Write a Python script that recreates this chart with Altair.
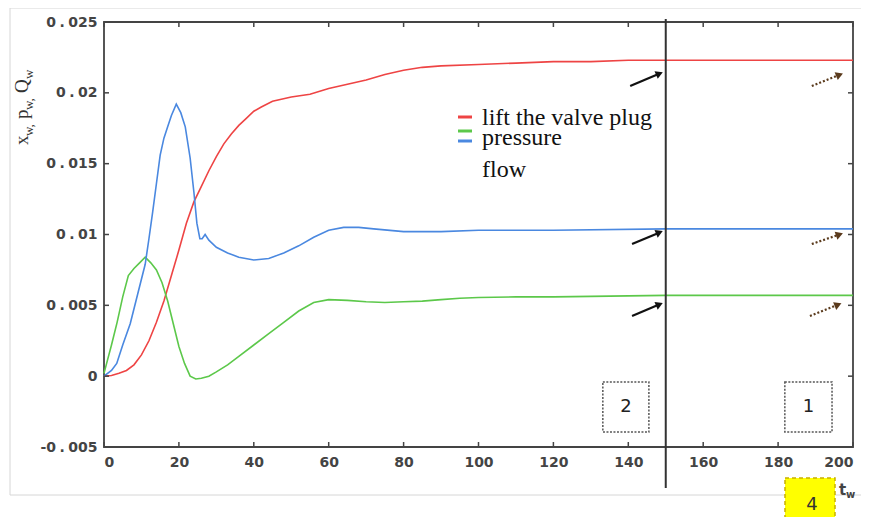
import math
import altair as alt
import pandas as pd

# ---------------- data ----------------
lift_t = [0, 2, 4, 6, 8, 10, 12, 14, 16, 18, 20, 22, 24, 26, 28, 30, 32, 34, 36, 38, 40, 42,
          45, 50, 55, 60, 65, 70, 75, 80, 85, 90, 100, 110, 120, 130, 140, 150, 170, 200]
lift_v = [0.0, 0.00005, 0.0002, 0.0004, 0.0008, 0.0015, 0.0025, 0.0038, 0.0053, 0.0071,
          0.0089, 0.0108, 0.0123, 0.0134, 0.0145, 0.0155, 0.0164, 0.0171, 0.0177, 0.0182,
          0.0187, 0.0190, 0.0194, 0.0197, 0.0199, 0.0203, 0.0206, 0.0209, 0.0213, 0.0216,
          0.0218, 0.0219, 0.0220, 0.0221, 0.0222, 0.0222, 0.0223, 0.0223, 0.0223, 0.0223]

flow_t = [0, 2, 3.4, 5, 7, 9, 11, 12, 13, 14, 15, 16, 17, 18, 19.3, 20.5, 21.7, 23, 24, 24.8,
          25.6, 26.2, 27, 28, 30, 33, 36, 40, 44, 48, 52, 56, 60, 64, 68, 72, 80, 90, 100,
          120, 150, 200]
flow_v = [0.0, 0.0004, 0.0009, 0.0022, 0.0037, 0.0058, 0.0079, 0.0097, 0.0116, 0.0136,
          0.0156, 0.0168, 0.0176, 0.0184, 0.0192, 0.0186, 0.0176, 0.0154, 0.0130, 0.0108,
          0.0097, 0.0097, 0.0100, 0.0096, 0.0091, 0.0087, 0.0084, 0.0082, 0.0083, 0.0087,
          0.0092, 0.0098, 0.0103, 0.0105, 0.0105, 0.0104, 0.0102, 0.0102, 0.0103, 0.0103,
          0.0104, 0.0104]

pres_t = [0, 1, 2, 3.5, 5, 6.5, 8, 9.5, 11, 12.5, 14, 15.5, 17, 18.5, 20, 21.5, 23, 24.5,
          26, 28, 30, 33, 36, 40, 44, 48, 52, 56, 60, 65, 70, 75, 80, 85, 90, 95, 100, 110,
          120, 150, 200]
pres_v = [0.0002, 0.0012, 0.0022, 0.0038, 0.0056, 0.0071, 0.0076, 0.0080, 0.0084, 0.0080,
          0.0075, 0.0066, 0.0053, 0.0037, 0.0021, 0.0009, 0.0000, -0.0002, -0.00015, 0.0000,
          0.0003, 0.0008, 0.0014, 0.0022, 0.0030, 0.0038, 0.0046, 0.0052, 0.0054, 0.00535,
          0.00525, 0.0052, 0.00525, 0.0053, 0.0054, 0.0055, 0.00555, 0.0056, 0.0056, 0.0057,
          0.0057]

series_names = ["lift the valve plug", "pressure", "flow"]
series_colors = ["#ee4444", "#5cc84a", "#4a88e0"]

x_ticks = [0, 20, 40, 60, 80, 100, 120, 140, 160, 180, 200]
y_ticks = [-0.005, 0.0, 0.005, 0.01, 0.015, 0.02, 0.025]

# arrow start / end points (t, value)
solid_t1 = [140.5, 141.0, 141.0]
solid_v1 = [0.02048, 0.00933, 0.00425]
solid_t2 = [149.3, 149.3, 149.3]
solid_v2 = [0.02147, 0.01025, 0.00517]
dotted_t1 = [189.0, 189.0, 188.5]
dotted_v1 = [0.02048, 0.00933, 0.00425]
dotted_t2 = [197.4, 197.4, 197.0]
dotted_v2 = [0.02138, 0.01009, 0.00515]

box_labels = ["2", "1"]
box_t1 = [133.2, 181.8]
box_t2 = [145.5, 194.4]
box_v1 = [-0.00041, -0.00041]
box_v2 = [-0.00394, -0.00394]

# ---------------- geometry ----------------
W, H = 749, 425
PX_T = W / 200.0
PX_V = H / 0.030

xs = alt.Scale(domain=[0, 200], nice=False, zero=False)
ys = alt.Scale(domain=[-0.005, 0.025], nice=False, zero=False)

rows = []
for name, ts, vs in [(series_names[0], lift_t, lift_v),
                     (series_names[1], pres_t, pres_v),
                     (series_names[2], flow_t, flow_v)]:
    for t, v in zip(ts, vs):
        rows.append({"series": name, "t": t, "v": v})
curves_df = pd.DataFrame(rows)

curves = alt.Chart(curves_df).mark_line(strokeWidth=1.6).encode(
    x=alt.X("t:Q", scale=xs, title=None,
            axis=alt.Axis(values=x_ticks, format="d", labelPadding=8, grid=False,
                          domain=False, ticks=False)),
    y=alt.Y("v:Q", scale=ys, title=None,
            axis=alt.Axis(values=y_ticks, labelPadding=7, grid=False, domain=False, ticks=False,
                          labelExpr="replace(replace(format(datum.value, '~g'), '\u2212', '-'), '.', '\u2005.\u2005')")),
    color=alt.Color("series:N", scale=alt.Scale(domain=series_names, range=series_colors), legend=None),
    detail="series:N",
)


def X(field):
    return alt.X(field, scale=xs, title=None)


def Y(field):
    return alt.Y(field, scale=ys, title=None)


# outer light border
border = alt.Chart(pd.DataFrame({"a": [0]})).mark_rect(
    fill="white", fillOpacity=0, stroke="#d6d6d6", strokeWidth=1
).encode(x=alt.value(-94), x2=alt.value(775), y=alt.value(-14), y2=alt.value(473))

# inward ticks
xt_df = pd.DataFrame({"t": x_ticks})
yt_df = pd.DataFrame({"v": y_ticks})
tick_style = dict(color="#444", strokeWidth=1.5)
ticks_bottom = alt.Chart(xt_df).mark_rule(**tick_style).encode(
    x=X("t:Q"), y=alt.value(H), y2=alt.value(H - 5))
ticks_top = alt.Chart(xt_df).mark_rule(**tick_style).encode(
    x=X("t:Q"), y=alt.value(0), y2=alt.value(5))
ticks_left = alt.Chart(yt_df).mark_rule(**tick_style).encode(
    y=Y("v:Q"), x=alt.value(0), x2=alt.value(5))
ticks_right = alt.Chart(yt_df).mark_rule(**tick_style).encode(
    y=Y("v:Q"), x=alt.value(W - 5), x2=alt.value(W))

# vertical marker line at t = 150
vline = alt.Chart(pd.DataFrame({"t": [150]})).mark_rule(color="#333", strokeWidth=2).encode(
    x=X("t:Q"), y=alt.value(-3), y2=alt.value(466))


def arrow_df(t1s, v1s, t2s, v2s, back=4.0):
    out = []
    for t1, v1, t2, v2 in zip(t1s, v1s, t2s, v2s):
        dx = (t2 - t1) * PX_T
        dy = -(v2 - v1) * PX_V
        L = math.hypot(dx, dy)
        ang = math.degrees(math.atan2(dy, dx)) % 360
        ht = t2 - (dx / L * back) / PX_T
        hv = v2 + (dy / L * back) / PX_V
        lt = t2 - (dx / L * (back + 1)) / PX_T
        lv = v2 + (dy / L * (back + 1)) / PX_V
        out.append({"t1": t1, "v1": v1, "t2": lt, "v2": lv, "ht": ht, "hv": hv, "ang": ang})
    return pd.DataFrame(out)


def arrows(df, color, dash=None):
    kw = dict(color=color, strokeWidth=2.2)
    if dash:
        kw["strokeDash"] = dash
    line = alt.Chart(df).mark_rule(**kw).encode(
        x=X("t1:Q"), y=Y("v1:Q"), x2="t2:Q", y2="v2:Q")
    head = alt.Chart(df).mark_point(shape="triangle-right", filled=True, size=70,
                                    color=color, opacity=1).encode(
        x=X("ht:Q"), y=Y("hv:Q"), angle=alt.Angle("ang:Q", scale=None))
    return line + head


solid_arrows = arrows(arrow_df(solid_t1, solid_v1, solid_t2, solid_v2), "#111111")
dotted_arrows = arrows(arrow_df(dotted_t1, dotted_v1, dotted_t2, dotted_v2), "#5a3a1c", dash=[2, 2])

# dotted boxes 2 and 1
box_df = pd.DataFrame({"lab": box_labels, "t1": box_t1, "t2": box_t2, "v1": box_v1, "v2": box_v2})
box_df["tc"] = (box_df["t1"] + box_df["t2"]) / 2
box_df["vc"] = (box_df["v1"] + box_df["v2"]) / 2
boxes = alt.Chart(box_df).mark_rect(fill="white", stroke="#555", strokeWidth=1.5,
                                    strokeDash=[2, 1.5]).encode(
    x=X("t1:Q"), x2="t2:Q", y=Y("v1:Q"), y2="v2:Q")
box_text = alt.Chart(box_df).mark_text(font="DejaVu Sans", fontSize=18, color="#222",
                                       baseline="middle", align="center").encode(
    x=X("tc:Q"), y=Y("vc:Q"), text="lab:N")

# legend drawn inside plot
legend_layers = []
dash_y = [95, 109, 119]
text_y = [103, 123, 155]
for name, col, dy, ty in zip(series_names, series_colors, dash_y, text_y):
    one = pd.DataFrame({"lab": [name]})
    legend_layers.append(alt.Chart(one).mark_rule(color=col, strokeWidth=3).encode(
        x=alt.value(354), x2=alt.value(368), y=alt.value(dy)))
    legend_layers.append(alt.Chart(one).mark_text(
        font="Liberation Serif", fontSize=24, color="#111", align="left",
        baseline="alphabetic").encode(x=alt.value(378), y=alt.value(ty), text="lab:N"))

# rotated y-axis title with subscripts
ytitle_parts = [("x", 19, -76, 123), ("w,", 13, -71, 114), ("p", 19, -76, 97),
                ("w,", 13, -71, 88), ("Q", 19, -76, 71), ("w", 13, -71, 57)]
ytitle_layers = []
for txt, fs, px, py in ytitle_parts:
    ytitle_layers.append(alt.Chart(pd.DataFrame({"lab": [txt]})).mark_text(
        font="Liberation Serif", fontSize=fs, color="#333", angle=270, align="left",
        baseline="alphabetic").encode(x=alt.value(px), y=alt.value(py), text="lab:N"))

# yellow box "4" and the t_w label
ybox = alt.Chart(pd.DataFrame({"lab": ["4"]})).mark_rect(
    fill="#ffff00", stroke="#c8b000", strokeWidth=1.5, strokeDash=[4, 3]).encode(
    x=alt.value(681), x2=alt.value(731), y=alt.value(456), y2=alt.value(500))
ybox_text = alt.Chart(pd.DataFrame({"lab": ["4"]})).mark_text(
    font="DejaVu Sans", fontSize=18, color="#333", baseline="middle", align="center").encode(
    x=alt.value(708), y=alt.value(483), text="lab:N")
tw_t = alt.Chart(pd.DataFrame({"lab": ["t"]})).mark_text(
    font="DejaVu Sans", fontSize=15, fontWeight="bold", color="#444", align="left",
    baseline="alphabetic").encode(x=alt.value(735), y=alt.value(473), text="lab:N")
tw_w = alt.Chart(pd.DataFrame({"lab": ["w"]})).mark_text(
    font="DejaVu Sans", fontSize=10, fontWeight="bold", color="#444", align="left",
    baseline="alphabetic").encode(x=alt.value(742), y=alt.value(476), text="lab:N")

chart = alt.layer(
    curves, border, ticks_bottom, ticks_top, ticks_left, ticks_right, vline,
    solid_arrows, dotted_arrows, boxes, box_text,
    *legend_layers, *ytitle_layers, ybox, ybox_text, tw_t, tw_w,
).properties(
    width=W, height=H,
    padding={"left": 96, "top": 14, "right": 8, "bottom": 70},
    autosize=alt.AutoSizeParams(type="none"),
    background="white",
).configure_view(
    stroke="#444", strokeWidth=1.8,
).configure_axis(
    grid=False, domain=False, ticks=False,
    labelFont="DejaVu Sans", labelFontSize=14, labelFontWeight="bold", labelColor="#444",
)

chart.save("out.html", embed_options={"renderer": "svg", "actions": False})
